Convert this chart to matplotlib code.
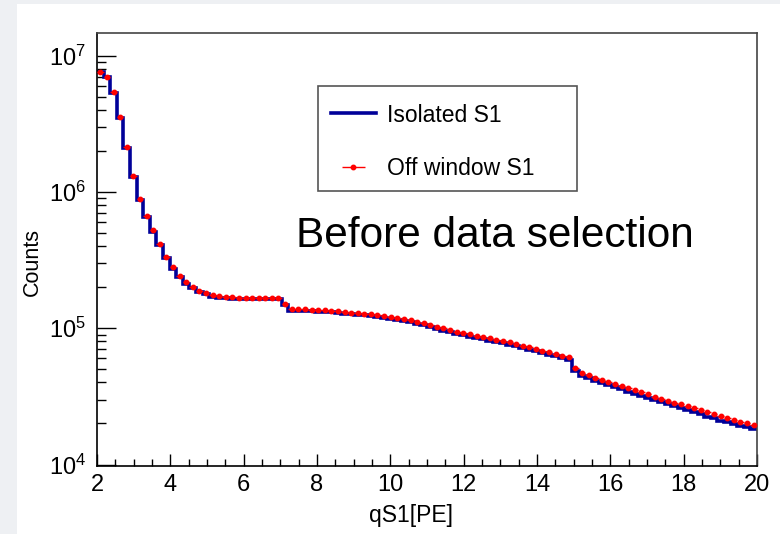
import numpy as np
import matplotlib
matplotlib.use("Agg")
import matplotlib.pyplot as plt
from matplotlib.ticker import MultipleLocator, LogLocator
from matplotlib.patches import Rectangle

plt.rcParams['font.family'] = ['Liberation Sans', 'DejaVu Sans']
plt.rcParams['mathtext.fontset'] = 'custom'
plt.rcParams['mathtext.rm'] = 'Liberation Sans'
plt.rcParams['mathtext.it'] = 'Liberation Sans'
plt.rcParams['mathtext.default'] = 'regular'

# histogram range: 100 bins from 2 to 20 PE
x_min, x_max, n_bins = 2, 20, 100

# Off window S1 (red points), counts per bin
off_window = [7.63e6, 7.01e6, 5.39e6, 3.57e6, 2.13e6, 1.31e6, 8.89e5, 6.70e5, 5.24e5, 4.15e5,
              3.35e5, 2.80e5, 2.43e5, 2.18e5, 2.02e5, 1.89e5, 1.81e5, 1.75e5, 1.72e5, 1.70e5,
              1.69e5, 1.68e5, 1.68e5, 1.68e5, 1.67e5, 1.67e5, 1.67e5, 1.67e5, 1.51e5, 1.38e5,
              1.385e5, 1.38e5, 1.37e5, 1.36e5, 1.356e5, 1.347e5, 1.333e5, 1.317e5, 1.302e5, 1.295e5,
              1.280e5, 1.267e5, 1.252e5, 1.237e5, 1.216e5, 1.196e5, 1.170e5, 1.145e5, 1.118e5, 1.094e5,
              1.063e5, 1.027e5, 1.000e5, 9.72e4, 9.44e4, 9.24e4, 9.04e4, 8.83e4, 8.64e4, 8.45e4,
              8.25e4, 8.07e4, 7.89e4, 7.67e4, 7.45e4, 7.25e4, 7.05e4, 6.85e4, 6.67e4, 6.48e4,
              6.30e4, 6.13e4, 5.09e4, 4.68e4, 4.52e4, 4.34e4, 4.18e4, 4.04e4, 3.90e4, 3.77e4,
              3.63e4, 3.51e4, 3.39e4, 3.28e4, 3.15e4, 3.04e4, 2.94e4, 2.85e4, 2.77e4, 2.68e4,
              2.59e4, 2.50e4, 2.42e4, 2.34e4, 2.26e4, 2.19e4, 2.12e4, 2.06e4, 2.01e4, 1.96e4]

# Isolated S1 (blue histogram)
isolated = [7.55e6, 6.93e6, 5.31e6, 3.51e6, 2.09e6, 1.28e6, 8.70e5, 6.55e5, 5.12e5, 4.06e5,
            3.28e5, 2.74e5, 2.38e5, 2.13e5, 1.97e5, 1.85e5, 1.77e5, 1.71e5, 1.68e5, 1.66e5,
            1.65e5, 1.64e5, 1.64e5, 1.63e5, 1.63e5, 1.63e5, 1.63e5, 1.63e5, 1.47e5, 1.34e5,
            1.34e5, 1.34e5, 1.33e5, 1.32e5, 1.315e5, 1.306e5, 1.293e5, 1.277e5, 1.263e5, 1.256e5,
            1.242e5, 1.229e5, 1.213e5, 1.199e5, 1.178e5, 1.159e5, 1.134e5, 1.109e5, 1.083e5, 1.059e5,
            1.026e5, 9.86e4, 9.60e4, 9.33e4, 9.06e4, 8.87e4, 8.68e4, 8.48e4, 8.29e4, 8.11e4,
            7.92e4, 7.75e4, 7.57e4, 7.36e4, 7.15e4, 6.96e4, 6.77e4, 6.58e4, 6.40e4, 6.22e4,
            6.05e4, 5.88e4, 4.89e4, 4.45e4, 4.29e4, 4.12e4, 3.97e4, 3.84e4, 3.71e4, 3.58e4,
            3.41e4, 3.30e4, 3.19e4, 3.08e4, 2.96e4, 2.86e4, 2.76e4, 2.68e4, 2.60e4, 2.52e4,
            2.41e4, 2.33e4, 2.25e4, 2.18e4, 2.10e4, 2.04e4, 1.97e4, 1.92e4, 1.87e4, 1.82e4]

edges = np.linspace(x_min, x_max, n_bins + 1)
centers = 0.5 * (edges[:-1] + edges[1:])
half_w = 0.5 * (edges[1] - edges[0])

fig = plt.figure(figsize=(7.8, 5.34), dpi=100)
fig.patch.set_facecolor('#eef0f3')
# white canvas of the slide
fig.patches.append(Rectangle((17 / 780, 0), 1, 1 - 4 / 534, transform=fig.transFigure,
                             facecolor='white', edgecolor='none', zorder=-10))

ax = fig.add_axes([97 / 780, 1 - 466 / 534, 660 / 780, 433 / 534])
ax.set_facecolor('white')

ax.stairs(isolated, edges, baseline=None, color='#000099', linewidth=2.6, label='Isolated S1', zorder=2)
ax.errorbar(centers, off_window, xerr=half_w, fmt='o', color='red', ms=3.2, elinewidth=1.0,
            capsize=0, label='Off window S1', zorder=3)

ax.set_yscale('log')
ax.set_xlim(x_min, x_max)
ax.set_ylim(9.75e3, 1.47e7)

ax.xaxis.set_major_locator(MultipleLocator(2))
ax.xaxis.set_minor_locator(MultipleLocator(0.5))
ax.yaxis.set_major_locator(LogLocator(base=10))
ax.yaxis.set_minor_locator(LogLocator(base=10, subs=np.arange(2, 10)))
ax.yaxis.set_minor_formatter(plt.NullFormatter())

ax.tick_params(axis='x', which='major', direction='in', length=8.6, width=1, top=False, pad=6, labelsize=17)
ax.tick_params(axis='x', which='minor', direction='in', length=5, width=1, top=False)
ax.tick_params(axis='y', which='major', direction='in', length=13.5, width=1, right=False, pad=8, labelsize=17)
ax.tick_params(axis='y', which='minor', direction='in', length=6.7, width=1, right=False)

for s in ['left', 'bottom']:
    ax.spines[s].set_linewidth(1.2)
for s in ['top', 'right']:
    ax.spines[s].set_linewidth(1.2)
    ax.spines[s].set_color('#444444')

ax.set_xlabel('qS1[PE]', fontsize=16.5, labelpad=1)
ax.xaxis.set_label_coords(314 / 660, -0.088)
ax.set_ylabel('Counts', fontsize=15.5)
ax.yaxis.set_label_coords(-0.082, 204 / 433)

# legend box drawn separately so its size matches the reference
ax.add_patch(Rectangle((318 / 780, 1 - 191 / 534), 259 / 780, 105 / 534, transform=fig.transFigure,
                       facecolor='white', edgecolor='#555555', linewidth=1.2, zorder=5))
leg = ax.legend(loc='upper left', bbox_to_anchor=(314 / 780, 1 - 87 / 534),
                bbox_transform=fig.transFigure, fontsize=16.5, frameon=False, borderpad=0.72,
                handlelength=2.0, handletextpad=0.45, labelspacing=1.33, borderaxespad=0)
leg.set_zorder(6)

fig.text(296 / 780, 1 - 247 / 534, 'Before data selection', fontsize=30.5, ha='left', va='baseline')

fig.savefig('out.png', dpi=100, facecolor=fig.get_facecolor())
